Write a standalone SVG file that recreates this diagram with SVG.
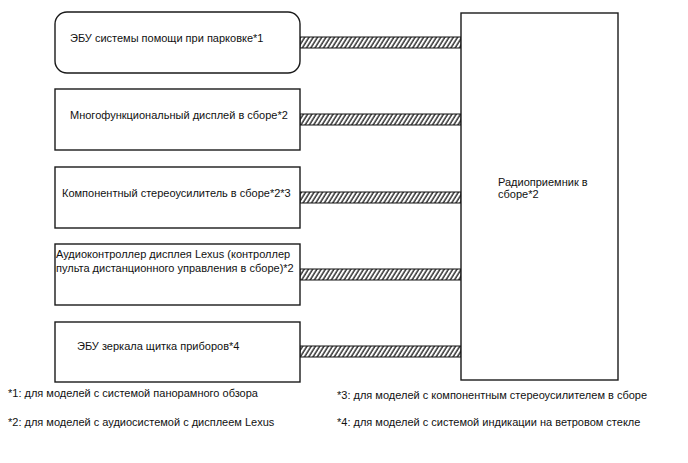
<svg xmlns="http://www.w3.org/2000/svg" width="688" height="463" viewBox="0 0 688 463">
<style>
.box{fill:#fff;stroke:#1a1a1a;stroke-width:1.4}
.t{font-family:"Liberation Sans",Arial,sans-serif;font-size:11px;fill:#111}
.bar{fill:url(#hatch);stroke:#111;stroke-width:1}
</style>
<defs>
<pattern id="hatch" patternUnits="userSpaceOnUse" width="3.6" height="10" patternTransform="rotate(32)">
<rect width="3.6" height="10" fill="#fff"/>
<line x1="1" y1="0" x2="1" y2="10" stroke="#111" stroke-width="1.3"/>
</pattern>
</defs>
<rect width="688" height="463" fill="#fff"/>
<g id="connectors">
<rect class="bar" x="300" y="37" width="161" height="11"/>
<rect class="bar" x="300" y="114" width="161" height="11"/>
<rect class="bar" x="300" y="192" width="161" height="11"/>
<rect class="bar" x="300" y="269" width="161" height="11"/>
<rect class="bar" x="300" y="346" width="161" height="11"/>
</g>
<g id="n1"><rect class="box" x="55" y="12" width="245" height="61" rx="12"/><text class="t" x="70" y="42">ЭБУ системы помощи при парковке*1</text></g>
<g id="n2"><rect class="box" x="55" y="89" width="245" height="61"/><text class="t" x="70" y="119">Многофункциональный дисплей в сборе*2</text></g>
<g id="n3"><rect class="box" x="55" y="167" width="245" height="61"/><text class="t" x="62" y="197">Компонентный стереоусилитель в сборе*2*3</text></g>
<g id="n4"><rect class="box" x="55" y="244" width="245" height="61"/><text class="t" x="56" y="258">Аудиоконтроллер дисплея Lexus (контроллер</text><text class="t" x="56" y="272">пульта дистанционного управления в сборе)*2</text></g>
<g id="n5"><rect class="box" x="55" y="322" width="245" height="60"/><text class="t" x="77" y="350">ЭБУ зеркала щитка приборов*4</text></g>
<g id="n6"><rect class="box" x="461" y="13" width="157" height="367"/><text class="t" x="498" y="186">Радиоприемник в</text><text class="t" x="498" y="198">сборе*2</text></g>
<g id="notes">
<text class="t" x="8" y="397">*1: для моделей с системой панорамного обзора</text>
<text class="t" x="8" y="426">*2: для моделей с аудиосистемой с дисплеем Lexus</text>
<text class="t" x="337" y="399">*3: для моделей с компонентным стереоусилителем в сборе</text>
<text class="t" x="337" y="426">*4: для моделей с системой индикации на ветровом стекле</text>
</g>
</svg>
